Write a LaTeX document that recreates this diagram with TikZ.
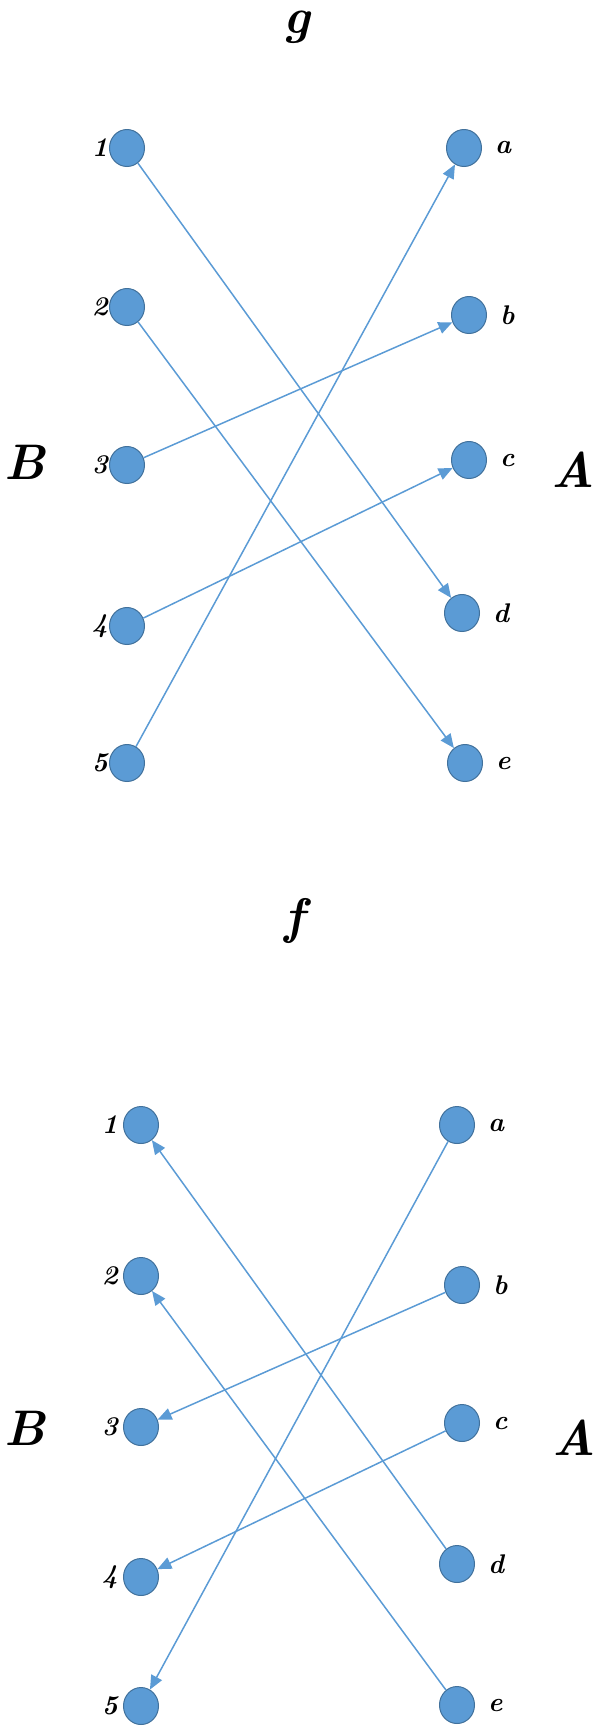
\documentclass[tikz,border=0pt]{standalone}
\usetikzlibrary{arrows.meta,shapes.geometric}
\definecolor{nodefill}{HTML}{5B9BD5}
\definecolor{nodeline}{HTML}{41719C}
\definecolor{edgecol}{HTML}{5B9BD5}
\begin{document}
\begin{tikzpicture}[x=1pt,y=-1pt,
  dot/.style={ellipse,fill=nodefill,draw=nodeline,line width=1pt,minimum width=35pt,minimum height=37pt,inner sep=0pt},
  lab/.style={font=\fontsize{27}{27}\selectfont\bfseries\itshape,inner sep=0pt},
  big/.style={font=\fontsize{50}{50}\selectfont\bfseries\itshape,inner sep=0pt},
  conn/.style={draw=edgecol,line width=1.5pt,-{Triangle[length=14pt,width=12pt]}}]
\useasboundingbox (0,0) rectangle (599,1727);
% ---------- top diagram g ----------
\node[big] (tg) at (297,27) {g};
\node[big] (tB) at (25,462) {B};
\node[big] (tA) at (573,470) {A};
\node[dot] (t1) at (127,148) {};
\node[dot] (t2) at (127,307) {};
\node[dot] (t3) at (127,465) {};
\node[dot] (t4) at (127,626) {};
\node[dot] (t5) at (127,763) {};
\node[dot] (ta) at (464,148) {};
\node[dot] (tb) at (469,315) {};
\node[dot] (tc) at (469,460) {};
\node[dot] (td) at (462,613) {};
\node[dot] (te) at (465,763) {};
\node[lab,anchor=east] (lt1) at ([xshift=-1pt]t1.west) {1};
\node[lab,anchor=east] (lt2) at ([xshift=-1pt]t2.west) {2};
\node[lab,anchor=east] (lt3) at ([xshift=-1pt]t3.west) {3};
\node[lab,anchor=east] (lt4) at ([xshift=-1pt]t4.west) {4};
\node[lab,anchor=east] (lt5) at ([xshift=-1pt]t5.west) {5};
\node[lab,anchor=west] (lta) at ([xshift=13pt]ta.east) {a};
\node[lab,anchor=west] (ltb) at ([xshift=13pt]tb.east) {b};
\node[lab,anchor=west] (ltc) at ([xshift=13pt]tc.east) {c};
\node[lab,anchor=west] (ltd) at ([xshift=13pt]td.east) {d};
\node[lab,anchor=west] (lte) at ([xshift=13pt]te.east) {e};
\draw[conn] (t1) -- (td);
\draw[conn] (t2) -- (te);
\draw[conn] (t3) -- (tb);
\draw[conn] (t4) -- (tc);
\draw[conn] (t5) -- (ta);
% ---------- bottom diagram f ----------
\node[big] (bf) at (294,921) {f};
\node[big] (bB) at (25,1428) {B};
\node[big] (bA) at (574,1438) {A};
\node[dot] (b1) at (141,1125) {};
\node[dot] (b2) at (141,1276) {};
\node[dot] (b3) at (141,1427) {};
\node[dot] (b4) at (141,1577) {};
\node[dot] (b5) at (141,1706) {};
\node[dot] (ba) at (457,1125) {};
\node[dot] (bb) at (462,1285) {};
\node[dot] (bc) at (462,1423) {};
\node[dot] (bd) at (457,1564) {};
\node[dot] (be) at (457,1705) {};
\node[lab,anchor=east] (lb1) at ([xshift=-5pt]b1.west) {1};
\node[lab,anchor=east] (lb2) at ([xshift=-5pt]b2.west) {2};
\node[lab,anchor=east] (lb3) at ([xshift=-5pt]b3.west) {3};
\node[lab,anchor=east] (lb4) at ([xshift=-5pt]b4.west) {4};
\node[lab,anchor=east] (lb5) at ([xshift=-5pt]b5.west) {5};
\node[lab,anchor=west] (lba) at ([xshift=13pt]ba.east) {a};
\node[lab,anchor=west] (lbb) at ([xshift=13pt]bb.east) {b};
\node[lab,anchor=west] (lbc) at ([xshift=13pt]bc.east) {c};
\node[lab,anchor=west] (lbd) at ([xshift=13pt]bd.east) {d};
\node[lab,anchor=west] (lbe) at ([xshift=13pt]be.east) {e};
\draw[conn] (bd) -- (b1);
\draw[conn] (be) -- (b2);
\draw[conn] (bb) -- (b3);
\draw[conn] (bc) -- (b4);
\draw[conn] (ba) -- (b5);
\end{tikzpicture}
\end{document}
